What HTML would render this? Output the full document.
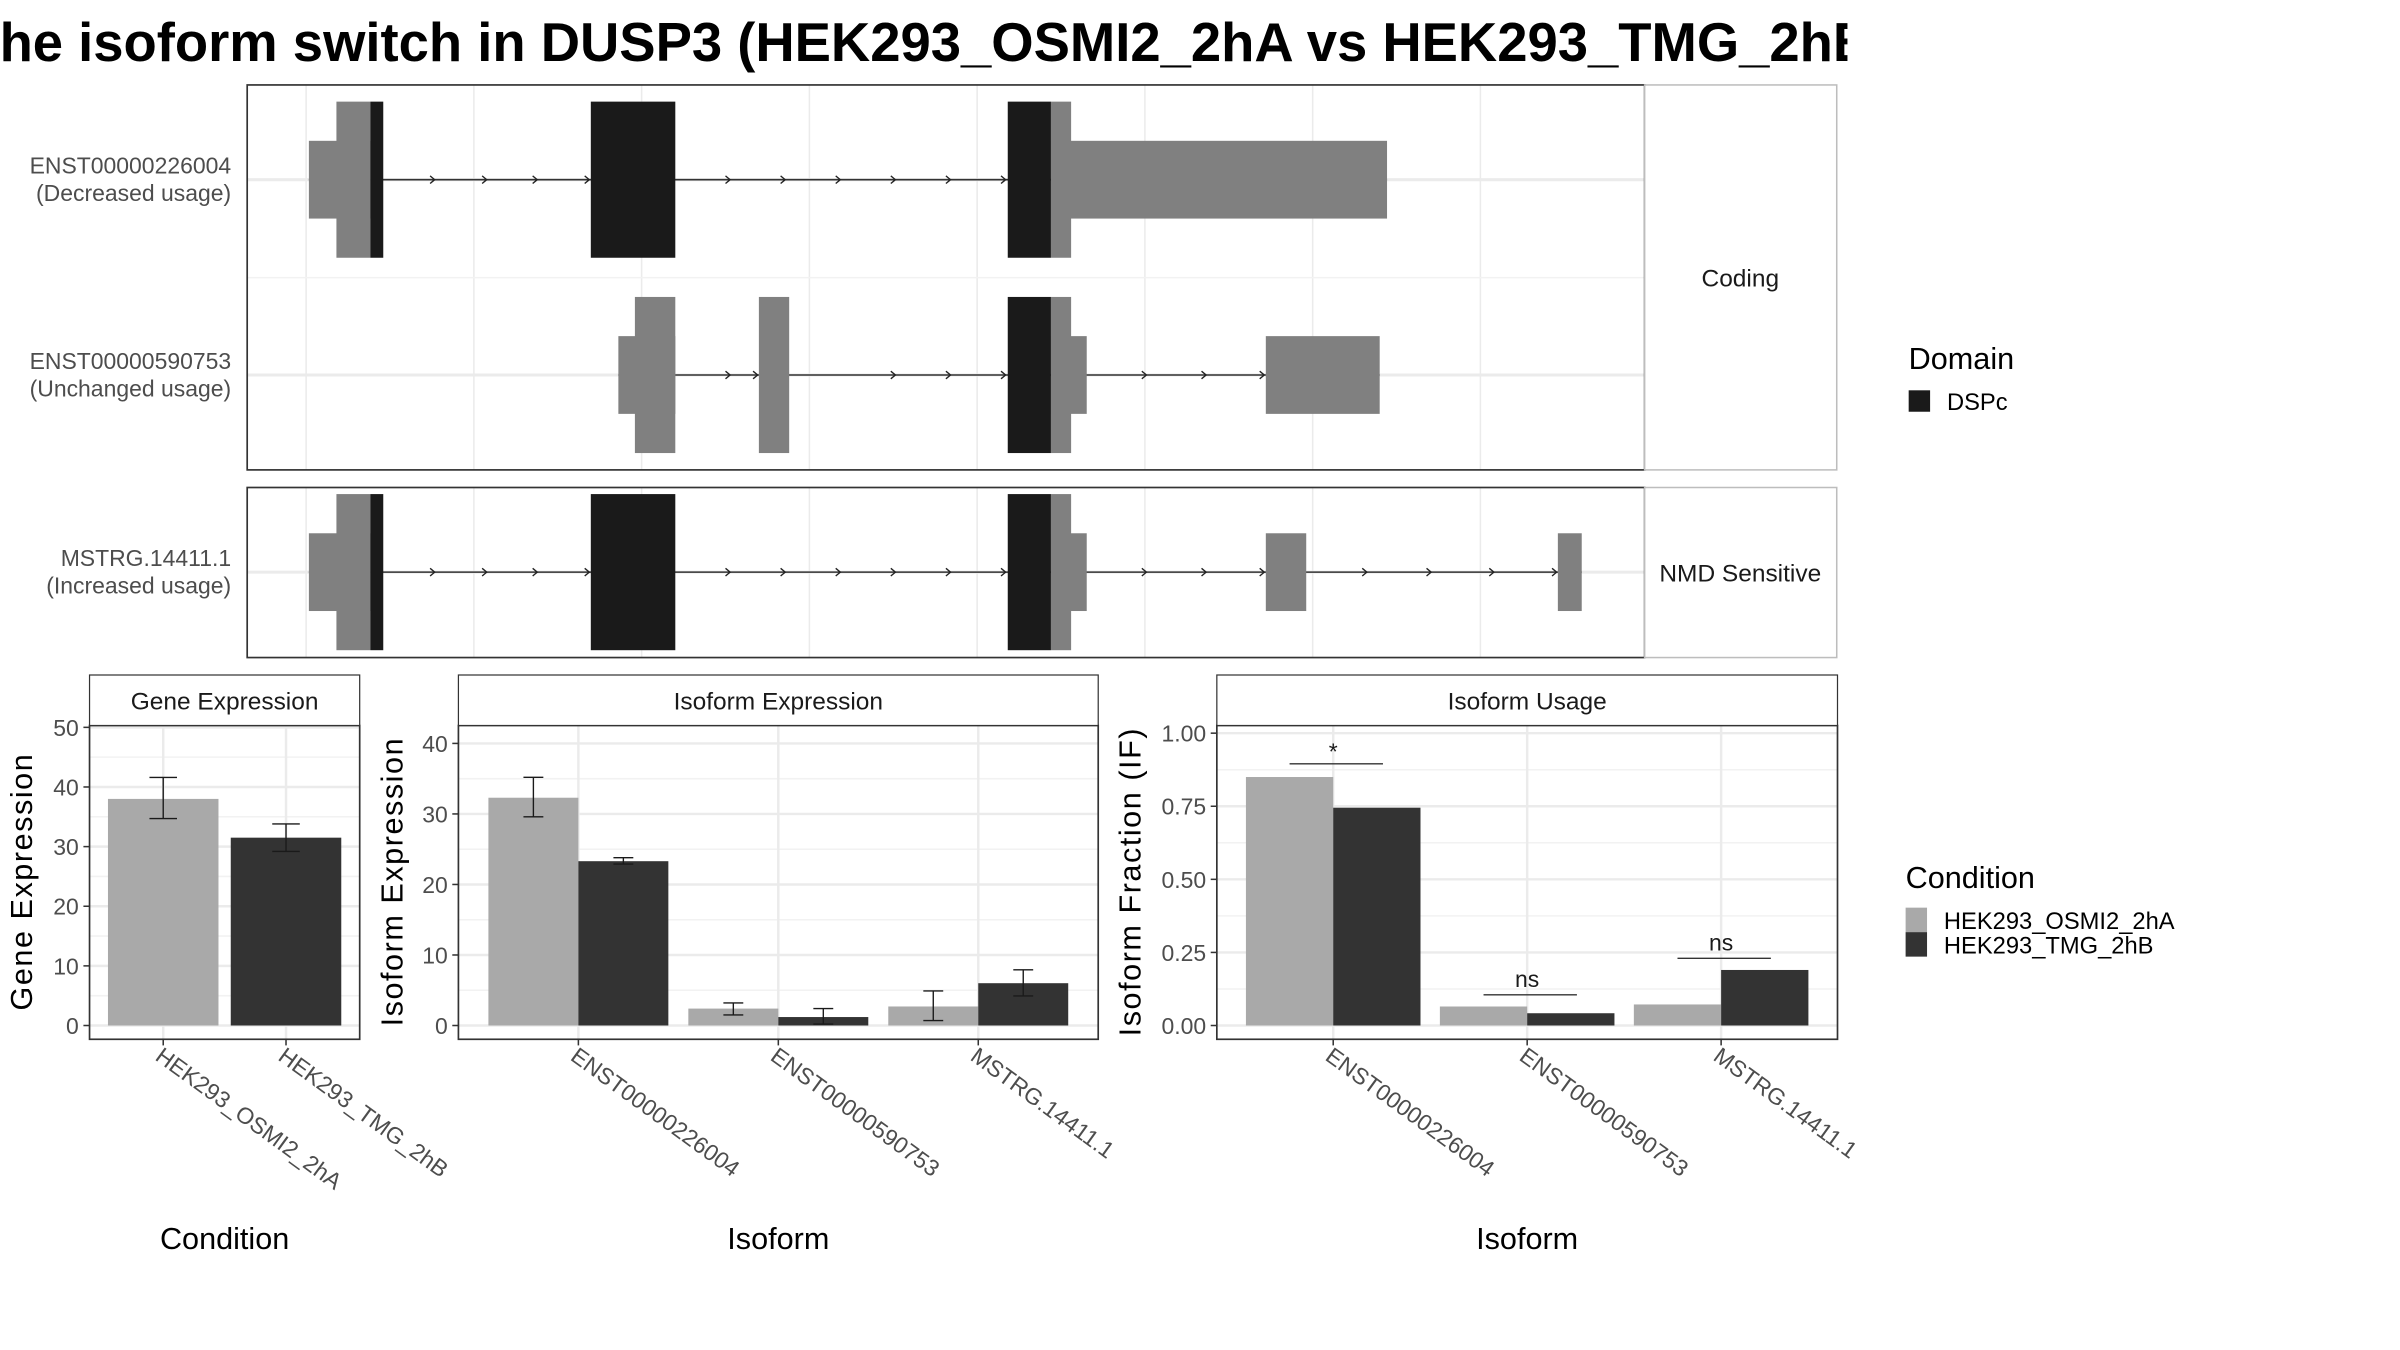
<!DOCTYPE html>
<html><head><meta charset="utf-8"><style>
html,body{margin:0;padding:0;background:#fff;}
svg{display:block;font-family:"Liberation Sans",Arial,sans-serif;}
</style></head><body>
<svg id="chart" width="2400" height="1350" viewBox="0 0 1568 882" xmlns="http://www.w3.org/2000/svg">
<defs><clipPath id="titleclip"><rect x="0" y="0" width="1207" height="60"/></clipPath></defs>
<rect x="0" y="0" width="1568" height="882" fill="#fff"/>
<text clip-path="url(#titleclip)" x="-22" y="40" font-size="36" font-weight="bold" fill="#000" textLength="1257" lengthAdjust="spacingAndGlyphs">The isoform switch in DUSP3 (HEK293_OSMI2_2hA vs HEK293_TMG_2hB)</text>
<g id="g-top"></g>
<g id="g-bottom"></g>
<g>
<text x="1247" y="241" font-size="20" fill="#000">Domain</text>
<rect x="1247" y="255" width="14" height="14" fill="#1a1a1a"/>
<text x="1272" y="268" font-size="15.5" fill="#000">DSPc</text>
</g>
<g>
<text x="1245" y="580" font-size="20" fill="#000">Condition</text>
<rect x="1245" y="593" width="14" height="16" fill="#a9a9a9"/>
<rect x="1245" y="609" width="14" height="16" fill="#333333"/>
<text x="1270" y="607" font-size="15.5" fill="#000">HEK293_OSMI2_2hA</text>
<text x="1270" y="623" font-size="15.5" fill="#000">HEK293_TMG_2hB</text>
</g>
</svg>
<script>
// ---- data ----
const geneCats = ["HEK293_OSMI2_2hA", "HEK293_TMG_2hB"];
const geneVals = [38.0, 31.5];
const geneErrHi = [41.6, 33.8];
const geneErrLo = [34.7, 29.2];
const geneTicks = [0, 10, 20, 30, 40, 50];

const isoCats = ["ENST00000226004", "ENST00000590753", "MSTRG.14411.1"];
const isoOsmi = [32.3, 2.4, 2.7];
const isoTmg = [23.3, 1.2, 6.0];
const isoOsmiHi = [35.2, 3.2, 4.9];
const isoOsmiLo = [29.6, 1.5, 0.7];
const isoTmgHi = [23.8, 2.4, 7.9];
const isoTmgLo = [22.9, 0.2, 4.2];
const isoTicks = [0, 10, 20, 30, 40];

const ifOsmi = [0.85, 0.065, 0.072];
const ifTmg = [0.745, 0.042, 0.19];
const ifTicks = [0, 0.25, 0.5, 0.75, 1.0];
const sigLabels = ["*", "ns", "ns"];
const sigLevels = [0.895, 0.105, 0.23];

const txNames = ["ENST00000226004", "ENST00000590753", "MSTRG.14411.1"];
const txSubs = ["(Decreased usage)", "(Unchanged usage)", "(Increased usage)"];
const tx1Exons = [[201.8,242,"u"],[219.8,242,"c"],[242,250.4,"d"],[386,441.2,"d"],[658.4,686.6,"d"],[686.6,699.8,"c"],[686.6,906.2,"u"]];
const tx2Exons = [[404,441.2,"u"],[414.8,441.2,"c"],[495.8,515.6,"c"],[658.4,686.6,"d"],[686.6,699.8,"c"],[686.6,710,"u"],[827,901.4,"u"]];
const tx3Exons = [[201.8,242,"u"],[219.8,242,"c"],[242,250.4,"d"],[386,441.2,"d"],[658.4,686.6,"d"],[686.6,699.8,"c"],[686.6,710,"u"],[827,853.4,"u"],[1017.8,1033.4,"u"]];
const tx1Arrows = [284,318,351,385,477,513,549,585,621,657];
const tx2Arrows = [477,495,585,621,657,749,788,826];
const tx3Arrows = [284,318,351,385,477,513,549,585,621,657,749,788,826,893,935,976,1017];

const NS = "http://www.w3.org/2000/svg";
function mk(parent, tag, attrs, text) {
  const e = document.createElementNS(NS, tag);
  for (const k in attrs) e.setAttribute(k, attrs[k]);
  if (text !== undefined) e.textContent = text;
  parent.appendChild(e);
  return e;
}
const gTop = document.getElementById("g-top");
const gBot = document.getElementById("g-bottom");
const COL_A = "#a9a9a9", COL_B = "#333333";

function txPanel(y0, y1, rows, stripLabel, nameKey) {
  const bg = mk(gTop, "rect", {x:161.5, y:y0, width:913, height:y1-y0, fill:"#fff"});
  
  
  for (let i = 0; i < 8; i++) {
    const gx = 200 + i * 109.6;
    const gl = mk(gTop, "line", {x1:gx, x2:gx, y1:y0, y2:y1, stroke:"#ebebeb", "stroke-width":1});
    
    
  }
  rows.forEach((r) => {
    const cy = r.cy;
    const hg = mk(gTop, "line", {x1:161.5, x2:1074.5, y1:cy, y2:cy, stroke:"#ebebeb", "stroke-width":2});
    
    
    if (r.divider) {
      const dv = mk(gTop, "line", {x1:161.5, x2:1074.5, y1:r.divider, y2:r.divider, stroke:"#f2f2f2", "stroke-width":1});
      
      
    }
    const ex = r.exons;
    const xs = ex.map(e => e[0]), xe = ex.map(e => e[1]);
    const il = mk(gTop, "line", {x1:Math.min(...xs), x2:Math.max(...xe), y1:cy, y2:cy, stroke:"#333", "stroke-width":1});
    
    
    r.arrows.forEach(ax => {
      const a = mk(gTop, "path", {d:`M${ax-3},${cy-2.5} L${ax},${cy} L${ax-3},${cy+2.5}`, stroke:"#222", fill:"none", "stroke-width":0.9});
      
      
    });
    const tallH = 51, shortH = 25.4;
    const order = ex.slice().sort((a, b) => (a[2] === "d") - (b[2] === "d"));
    order.forEach(e => {
      const h = e[2] === "u" ? shortH : tallH;
      const rc = mk(gTop, "rect", {x:e[0], y:cy-h, width:e[1]-e[0], height:2*h, fill:e[2]==="d" ? "#1a1a1a" : "#808080"});
      
      
    });
    const t1 = mk(gTop, "text", {x:151, y:cy-4, "text-anchor":"end", "font-size":15, fill:"#4d4d4d"}, r.name);
    
    
    const t2 = mk(gTop, "text", {x:151, y:cy+14, "text-anchor":"end", "font-size":15, fill:"#4d4d4d"}, r.sub);
    
    
  });
  const bd = mk(gTop, "rect", {x:161.5, y:y0, width:913, height:y1-y0, fill:"none", stroke:"#333", "stroke-width":1.1});
  
  
  const st = mk(gTop, "rect", {x:1074.5, y:y0, width:125.5, height:y1-y0, fill:"#fff", stroke:"#bdbdbd", "stroke-width":1});
  
  
  const stt = mk(gTop, "text", {x:1137, y:(y0+y1)/2+6, "text-anchor":"middle", "font-size":16, fill:"#1a1a1a"}, stripLabel);
  
  
}
txPanel(55.5, 307, [
  {cy:117.4, exons:tx1Exons, arrows:tx1Arrows, name:txNames[0], sub:txSubs[0], divider:181.4},
  {cy:245, exons:tx2Exons, arrows:tx2Arrows, name:txNames[1], sub:txSubs[1]}
], "Coding", "coding");
txPanel(318.5, 429.6, [
  {cy:373.8, exons:tx3Exons, arrows:tx3Arrows, name:txNames[2], sub:txSubs[2]}
], "NMD Sensitive", "nmd");

function barPanel(cfg) {
  const {x0, x1, key, title, cats, ticks, ymax, yTopPx, fmt, ytitle, ytitleX, xtitle} = cfg;
  const pTop = 474, pBot = 679, zero = 670;
  const y = v => zero - v * (zero - yTopPx) / ymax;
  const unit = (x1 - x0) / (cats.length - 1 + 1.2);
  const xc = i => x0 + (0.6 + i) * unit;
  const g = mk(gBot, "g", {});
  
  
  for (let i = 0; i < ticks.length - 1; i++) {
    const mv = (ticks[i] + ticks[i+1]) / 2;
    const ml = mk(g, "line", {x1:x0, x2:x1, y1:y(mv), y2:y(mv), stroke:"#f2f2f2", "stroke-width":1});
    
    
  }
  const last = ticks[ticks.length-1] + (ticks[1]-ticks[0]) / 2;
  if (y(last) > pTop) {
    const ml = mk(g, "line", {x1:x0, x2:x1, y1:y(last), y2:y(last), stroke:"#f2f2f2", "stroke-width":1});
    
    
  }
  ticks.forEach(t => {
    const gl = mk(g, "line", {x1:x0, x2:x1, y1:y(t), y2:y(t), stroke:"#ebebeb", "stroke-width":1.6});
    
    
    const tk = mk(g, "line", {x1:x0-4, x2:x0, y1:y(t), y2:y(t), stroke:"#333", "stroke-width":1});
    
    
    const tl = mk(g, "text", {x:x0-7, y:y(t)+5.5, "text-anchor":"end", "font-size":15, fill:"#4d4d4d"}, fmt(t));
    
    
  });
  cats.forEach((c, i) => {
    const gl = mk(g, "line", {x1:xc(i), x2:xc(i), y1:pTop, y2:pBot, stroke:"#ebebeb", "stroke-width":1.6});
    
    
  });
  cfg.draw(g, xc, y, unit);
  const bd = mk(g, "rect", {x:x0, y:pTop, width:x1-x0, height:pBot-pTop, fill:"none", stroke:"#333", "stroke-width":1.1});
  
  
  const st = mk(g, "rect", {x:x0, y:441, width:x1-x0, height:33, fill:"#fff", stroke:"#333", "stroke-width":0.8});
  
  
  const stt = mk(g, "text", {x:(x0+x1)/2, y:463.5, "text-anchor":"middle", "font-size":16, fill:"#1a1a1a"}, title);
  
  
  cats.forEach((c, i) => {
    const tk = mk(g, "line", {x1:xc(i), x2:xc(i), y1:pBot, y2:pBot+4, stroke:"#333", "stroke-width":1});
    
    
    const tl = mk(g, "text", {transform:`translate(${xc(i)-6},${pBot+13}) rotate(36)`, "font-size":15, fill:"#4d4d4d"}, c);
    
    
  });
  const yt = mk(g, "text", {transform:`translate(${ytitleX},576) rotate(-90)`, "text-anchor":"middle", "font-size":20, fill:"#000", "letter-spacing":1}, ytitle);
  
  
  const xt = mk(g, "text", {x:(x0+x1)/2, y:816, "text-anchor":"middle", "font-size":20, fill:"#000"}, xtitle);
  
  
}
function errBar(g, x, yHi, yLo, w) {
  const p = mk(g, "path", {d:`M${x-w},${yHi} H${x+w} M${x},${yHi} V${yLo} M${x-w},${yLo} H${x+w}`, stroke:"#1a1a1a", "stroke-width":0.9, fill:"none"});
  
  
}
barPanel({x0:58.5, x1:235, key:"gene-expression", title:"Gene Expression", cats:geneCats, ticks:geneTicks, ymax:50, yTopPx:475.2,
  fmt:t => String(t), ytitle:"Gene Expression", ytitleX:21, xtitle:"Condition",
  draw:(g, xc, y, unit) => {
    geneVals.forEach((v, i) => {
      const b = mk(g, "rect", {x:xc(i)-0.45*unit, y:y(v), width:0.9*unit, height:y(0)-y(v), fill:i===0?COL_A:COL_B});
      
      
      errBar(g, xc(i), y(geneErrHi[i]), y(geneErrLo[i]), 9);
    });
  }});
barPanel({x0:299.5, x1:717.5, key:"isoform-expression", title:"Isoform Expression", cats:isoCats, ticks:isoTicks, ymax:40, yTopPx:485.7,
  fmt:t => String(t), ytitle:"Isoform Expression", ytitleX:263, xtitle:"Isoform",
  draw:(g, xc, y, unit) => {
    isoCats.forEach((c, i) => {
      const w = 0.45 * unit;
      const a = mk(g, "rect", {x:xc(i)-w, y:y(isoOsmi[i]), width:w, height:y(0)-y(isoOsmi[i]), fill:COL_A});
      
      
      const b = mk(g, "rect", {x:xc(i), y:y(isoTmg[i]), width:w, height:y(0)-y(isoTmg[i]), fill:COL_B});
      
      
      errBar(g, xc(i)-w/2, y(isoOsmiHi[i]), y(isoOsmiLo[i]), 6.5);
      errBar(g, xc(i)+w/2, y(isoTmgHi[i]), y(isoTmgLo[i]), 6.5);
    });
  }});
barPanel({x0:795, x1:1200.5, key:"isoform-usage", title:"Isoform Usage", cats:isoCats, ticks:ifTicks, ymax:1, yTopPx:479,
  fmt:t => t.toFixed(2), ytitle:"Isoform Fraction (IF)", ytitleX:745, xtitle:"Isoform",
  draw:(g, xc, y, unit) => {
    isoCats.forEach((c, i) => {
      const w = 0.45 * unit;
      const a = mk(g, "rect", {x:xc(i)-w, y:y(ifOsmi[i]), width:w, height:y(0)-y(ifOsmi[i]), fill:COL_A});
      
      
      const b = mk(g, "rect", {x:xc(i), y:y(ifTmg[i]), width:w, height:y(0)-y(ifTmg[i]), fill:COL_B});
      
      
      const sl = mk(g, "line", {x1:xc(i)-w/2, x2:xc(i)+w/2+4, y1:y(sigLevels[i]), y2:y(sigLevels[i]), stroke:"#333", "stroke-width":0.9});
      
      
      const st = mk(g, "text", {x:xc(i), y:y(sigLevels[i]) - (sigLabels[i]==="*" ? 3 : 5), "text-anchor":"middle", "font-size":15, fill:"#1a1a1a"}, sigLabels[i]);
      
      
    });
  }});
</script>
</body></html>
